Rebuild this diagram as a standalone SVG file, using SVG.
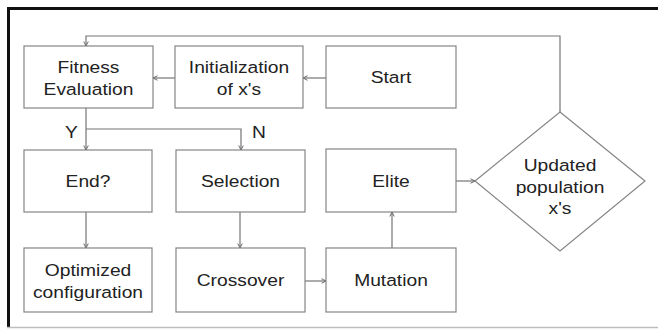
<svg xmlns="http://www.w3.org/2000/svg" width="658" height="329" viewBox="0 0 658 329">
<style>
.box{fill:#fff;stroke:#858585;stroke-width:1.2}
.t{font-family:"Liberation Sans",Arial,sans-serif;font-size:16.3px;fill:#222;text-anchor:middle}
.c{fill:none;stroke:#757575;stroke-width:1.2}
</style>
<defs>
<marker id="ah" viewBox="0 0 8 8" refX="7" refY="4" markerWidth="6" markerHeight="6" markerUnits="userSpaceOnUse" orient="auto">
<path d="M1,1 L7,4 L1,7" fill="none" stroke="#666" stroke-width="1.3"/>
</marker>
</defs>
<rect x="0" y="0" width="658" height="329" fill="#fff"/>
<g id="frame">
<line x1="7" y1="8.5" x2="658" y2="8.5" stroke="#111" stroke-width="3"/>
<line x1="8.5" y1="7" x2="8.5" y2="328" stroke="#111" stroke-width="3"/>
<line x1="7" y1="327.5" x2="658" y2="327.5" stroke="#bdbdbd" stroke-width="1.5"/>
</g>
<g id="connectors">
<path class="c" d="M560,112 V36 H86 V46" marker-end="url(#ah)"/>
<path class="c" d="M326,78 H303" marker-end="url(#ah)"/>
<path class="c" d="M175,78 H153" marker-end="url(#ah)"/>
<path class="c" d="M86,108 V150" marker-end="url(#ah)"/>
<path class="c" d="M86,129 H241 V150" marker-end="url(#ah)"/>
<path class="c" d="M86,212 V248" marker-end="url(#ah)"/>
<path class="c" d="M240,212 V248" marker-end="url(#ah)"/>
<path class="c" d="M305,281 H326" marker-end="url(#ah)"/>
<path class="c" d="M392,248 V212" marker-end="url(#ah)"/>
<path class="c" d="M456,181 H475" marker-end="url(#ah)"/>
<text class="t" transform="translate(71.5 0) scale(1.18 1)" x="0" y="138">Y</text>
<text class="t" transform="translate(259 0) scale(1.18 1)" x="0" y="138">N</text>
</g>
<g id="fitness">
<rect class="box" x="24" y="46" width="129" height="62"/>
<text class="t" transform="translate(88.5 0) scale(1.18 1)"><tspan x="0" y="73.5">Fitness</tspan><tspan x="0" y="95">Evaluation</tspan></text>
</g>
<g id="init">
<rect class="box" x="175" y="46" width="128" height="62"/>
<text class="t" transform="translate(239 0) scale(1.18 1)"><tspan x="0" y="73.5">Initialization</tspan><tspan x="0" y="95">of x's</tspan></text>
</g>
<g id="start">
<rect class="box" x="326" y="46" width="130" height="62"/>
<text class="t" transform="translate(391 0) scale(1.18 1)" x="0" y="83">Start</text>
</g>
<g id="end">
<rect class="box" x="24" y="150" width="128" height="62"/>
<text class="t" transform="translate(88 0) scale(1.18 1)" x="0" y="187">End?</text>
</g>
<g id="selection">
<rect class="box" x="176" y="150" width="129" height="62"/>
<text class="t" transform="translate(240.5 0) scale(1.18 1)" x="0" y="187">Selection</text>
</g>
<g id="elite">
<rect class="box" x="326" y="149" width="130" height="63"/>
<text class="t" transform="translate(391 0) scale(1.18 1)" x="0" y="187">Elite</text>
</g>
<g id="optimized">
<rect class="box" x="24" y="248" width="128" height="64"/>
<text class="t" transform="translate(88 0) scale(1.18 1)"><tspan x="0" y="276.5">Optimized</tspan><tspan x="0" y="298">configuration</tspan></text>
</g>
<g id="crossover">
<rect class="box" x="176" y="248" width="129" height="64"/>
<text class="t" transform="translate(240.5 0) scale(1.18 1)" x="0" y="286">Crossover</text>
</g>
<g id="mutation">
<rect class="box" x="326" y="248" width="130" height="64"/>
<text class="t" transform="translate(391 0) scale(1.18 1)" x="0" y="286">Mutation</text>
</g>
<g id="updated">
<polygon class="box" points="560,112 645,181 560,251 475,181"/>
<text class="t" transform="translate(560 0) scale(1.18 1)"><tspan x="0" y="171.5">Updated</tspan><tspan x="0" y="193">population</tspan><tspan x="0" y="214.5">x's</tspan></text>
</g>
</svg>
